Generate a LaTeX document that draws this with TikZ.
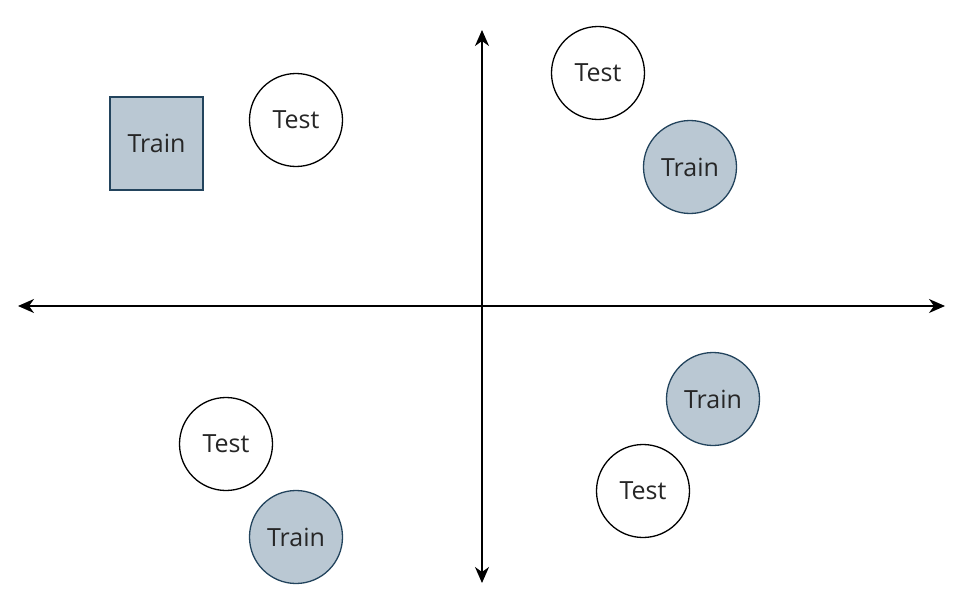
\documentclass[tikz,border=0pt]{standalone}
\usepackage{fontspec}
\setmainfont{Open Sans}
\usetikzlibrary{arrows.meta}
\definecolor{trainfill}{HTML}{BAC8D3}
\definecolor{trainline}{HTML}{23445D}
\tikzset{
  base/.style={line width=1.3pt,minimum size=93pt,inner sep=0pt,font=\fontsize{25}{30}\selectfont,text=black!85},
  testnode/.style={base,circle,draw=black,fill=white},
  traincirc/.style={base,circle,draw=trainline,fill=trainfill},
  trainbox/.style={base,rectangle,draw=trainline,fill=trainfill},
  axis/.style={line width=1.6pt,{Stealth[length=16pt,width=14pt,inset=5pt]}-{Stealth[length=16pt,width=14pt,inset=5pt]}}
}
\begin{document}
\begin{tikzpicture}[x=1pt,y=-1pt]
\useasboundingbox (0,0) rectangle (964,602);
\coordinate (L) at (18,306);
\coordinate (R) at (945,306);
\coordinate (T) at (482,30);
\coordinate (B) at (482,583);
\draw[axis] (L) -- (R);
\draw[axis] (T) -- (B);
\node[trainbox] (tr1) at (156.5,143.5) {Train};
\node[testnode] (te1) at (296,120) {Test};
\node[testnode] (te2) at (598,73) {Test};
\node[traincirc] (tr2) at (690,167) {Train};
\node[traincirc] (tr3) at (713,399) {Train};
\node[testnode] (te3) at (643,491) {Test};
\node[testnode] (te4) at (226,444) {Test};
\node[traincirc] (tr4) at (296,537) {Train};
\end{tikzpicture}
\end{document}
